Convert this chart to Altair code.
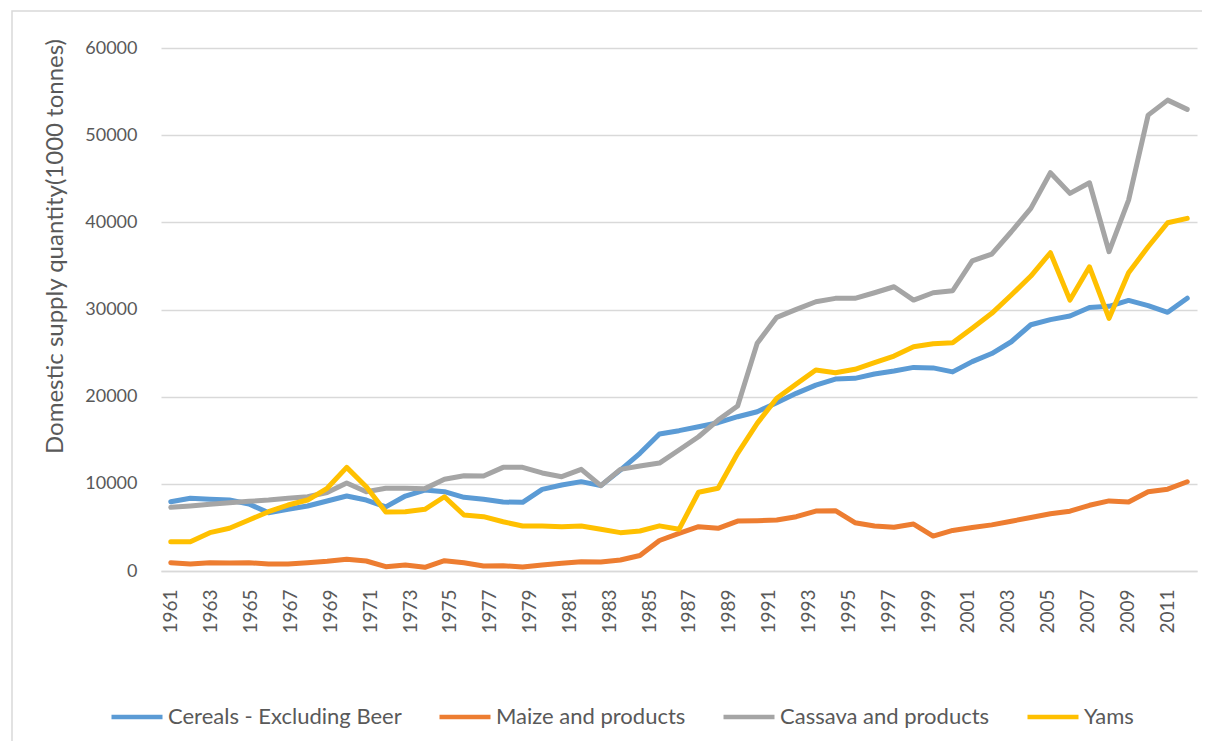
import altair as alt
import pandas as pd

years = list(range(1961, 2014))
label_years = list(range(1961, 2012, 2))

series_names = ["Cereals - Excluding Beer", "Maize and products", "Cassava and products", "Yams"]
series_colors = ["#5B9BD5", "#ED7D31", "#A5A5A5", "#FFC000"]

cereals = [7950, 8340, 8220, 8140, 7680, 6690, 7080, 7460, 8030, 8600, 8140, 7350, 8600,
           9290, 9100, 8450, 8220, 7910, 7880, 9370,
           9860, 10250, 9790, 11580, 13500, 15710, 16100, 16550, 17010, 17700,
           18270, 19300, 20380, 21330, 22020, 22100, 22600, 22940, 23360, 23300,
           22840, 24020, 24950, 26300, 28250, 28840, 29260, 30230, 30360, 31040, 30440, 29680, 31290]
maize = [950, 800, 950, 920, 950, 800, 800, 950, 1110, 1340, 1150, 500, 690,
         420, 1180, 950, 570, 610, 460, 690,
         880, 1070, 1030, 1260, 1780, 3500, 4320, 5080, 4900, 5730,
         5770, 5850, 6230, 6880, 6920, 5540, 5160, 5010, 5390, 4010,
         4650, 4990, 5290, 5710, 6140, 6560, 6860, 7540, 8040, 7910, 9100, 9390, 10240]
cassava = [7300, 7460, 7650, 7840, 7990, 8140, 8340, 8520, 9000, 10100, 9100, 9490, 9490,
           9450, 10520, 10930, 10900, 11890, 11890, 11250,
           10820, 11660, 9790, 11660, 12040, 12380, 13880, 15400, 17320, 18930,
           26120, 29100, 30020, 30890, 31280, 31280, 31920, 32610, 31080, 31920,
           32150, 35590, 36360, 38920, 41600, 45690, 43320, 44540, 36630, 42550, 52300, 54020, 52960]
yams = [3360, 3360, 4400, 4900, 5850, 6800, 7570, 8140, 9490, 11890, 9670, 6770, 6800,
        7080, 8520, 6420, 6230, 5650, 5160, 5160,
        5080, 5160, 4780, 4400, 4590, 5180, 4780, 9030, 9490, 13500,
        16940, 19810, 21450, 23050, 22750, 23140, 23900, 24660, 25730, 26080,
        26190, 27840, 29560, 31660, 33840, 36510, 31080, 34900, 28980, 34220, 37200, 39950, 40450]

rows = []
for name, vals in zip(series_names, [cereals, maize, cassava, yams]):
    for yr, v in zip(years, vals):
        rows.append({"year": yr, "value": v, "series": name})
df = pd.DataFrame(rows)

FONT = "Lato"
GRID = "#D9D9D9"
TXT = "#595959"

W, H = 1036, 523

border = alt.Chart(pd.DataFrame({"a": [0]})).mark_rect(
    fill=None, stroke=GRID, strokeWidth=1.5
).encode(
    x=alt.value(-149), x2=alt.value(W + 60),
    y=alt.value(-37), y2=alt.value(H + 300)
)

lines = alt.Chart(df).mark_line(strokeWidth=5, strokeJoin="round", strokeCap="round").encode(
    x=alt.X("year:Q", scale=alt.Scale(domain=[1960.5, 2013.5], nice=False, zero=False), axis=None),
    y=alt.Y("value:Q",
            scale=alt.Scale(domain=[0, 60000], nice=False),
            axis=alt.Axis(values=[0, 10000, 20000, 30000, 40000, 50000, 60000], format="d",
                          grid=True, gridColor=GRID, gridWidth=1.5, domain=False, ticks=False,
                          labelFont=FONT, labelFontSize=18, labelColor=TXT, labelPadding=24,
                          title="Domestic supply quantity(1000 tonnes)",
                          titleFont=FONT, titleFontSize=24, titleFontWeight="normal",
                          titleColor=TXT, titleX=-106, titleY=198, titleBaseline="middle",
                          titleAlign="center")),
    color=alt.Color("series:N",
                    scale=alt.Scale(domain=series_names, range=series_colors),
                    legend=alt.Legend(title=None, orient="none", legendX=-52, legendY=641,
                                      direction="horizontal", symbolType="stroke",
                                      symbolSize=2601, symbolStrokeWidth=4.5,
                                      labelFont=FONT, labelFontSize=22, labelColor=TXT,
                                      labelLimit=0, labelOffset=3, columnPadding=28)),
    order=alt.Order("year:Q")
)

axis_df = pd.DataFrame({"yr": label_years})
axis_layer = alt.Chart(axis_df).mark_point(opacity=0).encode(
    x=alt.X("yr:Q", scale=alt.Scale(domain=[1960.5, 2012.5], nice=False, zero=False),
            axis=alt.Axis(orient="bottom", values=label_years, format="d", labelAngle=-90,
                          grid=False, ticks=False, domain=True, domainColor=GRID, domainWidth=1.5,
                          labelFont=FONT, labelFontSize=19, labelColor=TXT, labelPadding=18,
                          labelOverlap=False, title=None)),
    y=alt.value(0)
)

chart = alt.layer(border, lines, axis_layer).resolve_scale(x="independent").properties(
    width=W, height=H,
    padding={"left": 153, "top": 40, "right": 5, "bottom": 170},
    autosize=alt.AutoSizeParams(type="none"),
    background="white"
).configure_view(stroke=None)

chart.save("out.html", embed_options={"renderer": "svg", "actions": False})
